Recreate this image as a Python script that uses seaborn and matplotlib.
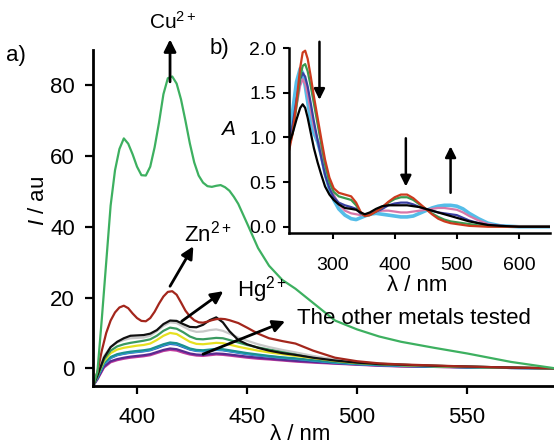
import numpy as np
import pandas as pd
import matplotlib
matplotlib.use("Agg")
import matplotlib.pyplot as plt
import seaborn as sns

# ---- data: a) emission spectra ----
# fine grid for the two strong curves (Cu, Zn)
wl_fine = [380, 382, 384, 386, 388, 390, 392, 394, 396, 398, 400, 402, 404, 406, 408,
           410, 412, 414, 416, 418, 420, 422, 424, 426, 428, 430, 432, 434, 436, 438,
           440, 442, 444, 446, 450, 455, 460, 466, 472, 480, 490, 500, 510, 520, 535,
           550, 570, 590]
cu = [-5, -1, 14, 30, 46, 56, 62, 65, 63.5, 60.5, 57, 54.6, 54.5, 57, 62.5, 69.5, 77.5,
      82, 82.5, 80.5, 76, 70, 63.6, 58.2, 54.5, 52.5, 51.5, 51.3, 51.6, 51.8, 51.2,
      50.2, 48.5, 46.5, 41, 34, 29, 25, 22.5, 18.5, 13.5, 11, 9, 7.5, 5.8, 4.2, 1.8, 0]
zn = [-5, -1, 5, 10, 13.5, 15.8, 17.2, 17.7, 17, 15.5, 14.2, 13.4, 13.3, 14.2, 16,
      18.3, 20.3, 21.6, 21.8, 20.8, 18.6, 16.3, 14.7, 13.6, 13, 12.9, 13.2, 13.6, 13.9,
      14, 13.9, 13.6, 13.2, 12.8, 11.5, 9.8, 8.5, 7.7, 7, 5, 3, 2, 1.4, 1.1, 0.8, 0.5,
      0.2, 0]

wl = [380, 382, 385, 388, 391, 394, 397, 400, 403, 406, 409, 412, 415, 418, 421,
      424, 427, 430, 433, 436, 439, 442, 446, 450, 455, 460, 466, 472, 480, 490,
      500, 510, 520, 535, 550, 570, 590]
hg = [-5, -2, 3, 6, 7.5, 8.5, 9.2, 9.3, 9.4, 9.8, 10.8, 12.5, 13.5, 13.4, 12.5,
      11.7, 11.6, 12.3, 13.6, 14.4, 13, 10.5, 8, 6.8, 5.8, 5, 4.3, 3.8, 3, 2.2, 1.6,
      1.2, 1.0, 0.7, 0.5, 0.2, 0]
grey = [-5, -1.5, 3.5, 6, 7.3, 8, 8.5, 8.6, 8.7, 9.2, 10.5, 12, 13, 12.8, 11.8,
        10.8, 10.3, 10.4, 10.8, 11, 10.6, 9.8, 8.7, 7.8, 6.8, 6, 5.2, 4.5, 3.5, 2.5,
        1.8, 1.3, 1, 0.7, 0.5, 0.2, 0]
sea = [-5, -2, 2.5, 5, 6.2, 6.8, 7.2, 7.5, 7.8, 8.2, 9.2, 10.6, 11.5, 11.2, 10.2, 9,
       8.3, 8.2, 8.4, 8.6, 8.5, 8, 7.3, 6.6, 5.9, 5.3, 4.7, 4.1, 3.3, 2.4, 1.7, 1.3,
       1.0, 0.7, 0.5, 0.2, 0]
yellow = [-5, -2, 2, 4.3, 5.3, 5.8, 6.1, 6.4, 6.6, 7, 8, 9.2, 10, 9.7, 8.6, 7.5, 6.9,
          6.8, 7, 7.2, 7.1, 6.7, 6.1, 5.6, 5, 4.5, 4, 3.5, 2.9, 2.1, 1.5, 1.2, 0.9,
          0.6, 0.4, 0.2, 0]
teal = [-5, -2.5, 1.5, 3.2, 4, 4.4, 4.7, 4.9, 5.1, 5.4, 6.1, 6.8, 7.3, 7.1, 6.4, 5.6,
        5.2, 5.1, 5.3, 5.5, 5.4, 5.1, 4.7, 4.3, 3.9, 3.5, 3.1, 2.8, 2.3, 1.7, 1.3,
        1.0, 0.8, 0.5, 0.3, 0.1, 0]
sky = [-5, -2.6, 1.3, 3.0, 3.8, 4.2, 4.5, 4.7, 4.9, 5.2, 5.9, 6.6, 7.1, 6.9, 6.2,
       5.4, 5.0, 4.9, 5.1, 5.3, 5.2, 4.9, 4.5, 4.1, 3.7, 3.4, 3.0, 2.7, 2.2, 1.6, 1.2,
       0.9, 0.7, 0.5, 0.3, 0.1, 0]
blue = [-5, -2.7, 1.2, 2.9, 3.7, 4.1, 4.4, 4.6, 4.8, 5.1, 5.7, 6.4, 6.9, 6.7, 6, 5.3,
        4.9, 4.8, 5, 5.2, 5.1, 4.8, 4.4, 4, 3.6, 3.3, 2.9, 2.6, 2.1, 1.6, 1.2, 0.9,
        0.7, 0.5, 0.3, 0.1, 0]
purple = [-5, -3, 0.5, 2, 2.6, 3, 3.3, 3.5, 3.7, 4, 4.6, 5.2, 5.6, 5.4, 4.8, 4.2, 3.9,
          3.8, 4, 4.2, 4.1, 3.9, 3.6, 3.3, 3, 2.7, 2.4, 2.1, 1.8, 1.4, 1.1, 0.8, 0.6,
          0.4, 0.3, 0.1, 0]
magenta = [-5, -3.2, 0.2, 1.7, 2.3, 2.7, 3, 3.2, 3.4, 3.7, 4.3, 4.9, 5.2, 5, 4.4, 3.9,
           3.6, 3.5, 3.7, 3.9, 3.8, 3.6, 3.3, 3, 2.7, 2.5, 2.2, 1.9, 1.6, 1.3, 1, 0.7,
           0.5, 0.4, 0.2, 0.1, 0]

# ---- data: b) absorption spectra ----
wl_abs = [230, 236, 242, 248, 252, 256, 260, 265, 270, 276, 282, 288, 295, 302, 310,
          320, 330, 338, 345, 352, 360, 370, 380, 390, 400, 410, 420, 430, 440, 450,
          460, 470, 480, 490, 500, 510, 520, 535, 550, 570, 600, 650]
a_red = [0.85, 1.05, 1.4, 1.78, 1.95, 1.97, 1.88, 1.68, 1.46, 1.22, 0.98, 0.75, 0.55,
         0.43, 0.38, 0.36, 0.34, 0.27, 0.17, 0.12, 0.13, 0.17, 0.22, 0.28, 0.33, 0.36,
         0.36, 0.32, 0.26, 0.2, 0.14, 0.09, 0.06, 0.04, 0.03, 0.02, 0.01, 0.005, 0, 0,
         0, 0]
a_green = [0.9, 1.05, 1.35, 1.68, 1.8, 1.82, 1.74, 1.57, 1.38, 1.15, 0.92, 0.7, 0.5,
           0.39, 0.34, 0.32, 0.3, 0.24, 0.16, 0.12, 0.13, 0.17, 0.22, 0.27, 0.31, 0.33,
           0.33, 0.3, 0.25, 0.2, 0.15, 0.11, 0.08, 0.06, 0.05, 0.04, 0.03, 0.015, 0.01,
           0, 0, 0]
a_blue = [0.95, 1.15, 1.42, 1.65, 1.72, 1.68, 1.57, 1.38, 1.18, 0.97, 0.77, 0.58, 0.43,
          0.33, 0.27, 0.24, 0.22, 0.2, 0.15, 0.13, 0.14, 0.17, 0.2, 0.24, 0.26, 0.27,
          0.27, 0.25, 0.22, 0.2, 0.18, 0.16, 0.15, 0.14, 0.13, 0.1, 0.07, 0.04, 0.02,
          0.01, 0, 0]
a_cyan = [1.0, 1.3, 1.62, 1.77, 1.72, 1.58, 1.4, 1.18, 1.05, 0.95, 0.8, 0.6, 0.42, 0.3,
          0.2, 0.13, 0.09, 0.08, 0.1, 0.12, 0.14, 0.15, 0.14, 0.13, 0.12, 0.11, 0.11,
          0.12, 0.15, 0.18, 0.21, 0.23, 0.24, 0.24, 0.23, 0.2, 0.15, 0.09, 0.04, 0.01,
          0, 0]
a_pink = [0.95, 1.1, 1.35, 1.58, 1.65, 1.6, 1.48, 1.3, 1.12, 0.97, 0.85, 0.7, 0.52,
          0.36, 0.25, 0.18, 0.15, 0.14, 0.13, 0.13, 0.15, 0.17, 0.18, 0.18, 0.17, 0.16,
          0.16, 0.17, 0.18, 0.19, 0.2, 0.21, 0.21, 0.2, 0.19, 0.16, 0.12, 0.07, 0.03,
          0.01, 0, 0]
a_black = [0.93, 1.05, 1.2, 1.33, 1.37, 1.33, 1.22, 1.05, 0.88, 0.72, 0.58, 0.45, 0.36,
           0.3, 0.25, 0.21, 0.2, 0.19, 0.16, 0.14, 0.16, 0.2, 0.23, 0.24, 0.24, 0.24,
           0.24, 0.23, 0.22, 0.2, 0.18, 0.16, 0.14, 0.12, 0.1, 0.08, 0.06, 0.04, 0.02,
           0.01, 0, 0]

em_series = {"magenta": (wl, magenta), "purple": (wl, purple), "blue": (wl, blue),
             "sky": (wl, sky), "teal": (wl, teal), "yellow": (wl, yellow),
             "sea": (wl, sea), "grey": (wl, grey), "Hg": (wl, hg),
             "Zn": (wl_fine, zn), "Cu": (wl_fine, cu)}
em_colors = {"magenta": "#c03a9e", "purple": "#5a2a90", "blue": "#2a4cb0",
             "sky": "#3aa8e0", "teal": "#1a9090", "yellow": "#e6e020",
             "sea": "#3a9a60", "grey": "#c8c8c8", "Hg": "#101010",
             "Zn": "#a3261c", "Cu": "#3db060"}
abs_series = {"cyan": a_cyan, "pink": a_pink, "blue": a_blue, "green": a_green,
              "red": a_red, "black": a_black}
abs_colors = {"cyan": "#55bde8", "pink": "#d877a8", "blue": "#3a3fa0",
              "green": "#3a9a50", "red": "#cc3a1e", "black": "#000000"}

em_df = pd.concat([pd.DataFrame({"wl": x, "I": y, "metal": k})
                   for k, (x, y) in em_series.items()], ignore_index=True)
abs_df = pd.concat([pd.DataFrame({"wl": wl_abs, "A": v, "sample": k})
                    for k, v in abs_series.items()], ignore_index=True)

sns.set_style("ticks")
plt.rcParams["font.family"] = ["Liberation Sans", "DejaVu Sans"]
plt.rcParams["mathtext.fontset"] = "custom"
plt.rcParams["mathtext.rm"] = "Liberation Sans"
plt.rcParams["mathtext.it"] = "Liberation Sans:italic"
for key in ["text.color", "axes.labelcolor", "xtick.color", "ytick.color",
            "axes.edgecolor"]:
    plt.rcParams[key] = "black"

fig = plt.figure(figsize=(5.54, 4.45), dpi=100, facecolor="white")
ax = fig.add_axes([0.1679, 0.1326, 0.8321, 0.7551])
sns.lineplot(data=em_df, x="wl", y="I", hue="metal", palette=em_colors,
             hue_order=list(em_series.keys()), estimator=None, sort=False,
             legend=False, linewidth=1.6, ax=ax)

ax.set_xlim(380, 589.5)
ax.set_ylim(-5, 90)
ax.set_xticks([400, 450, 500, 550])
ax.set_yticks([0, 20, 40, 60, 80])
ax.tick_params(labelsize=16, length=6, width=1.6, pad=7, direction="out")
ax.tick_params(axis="x", pad=9)
for s in ["top", "right"]:
    ax.spines[s].set_visible(False)
for s in ["left", "bottom"]:
    ax.spines[s].set_linewidth(2)
ax.set_xlabel("λ / nm", fontsize=16)
ax.xaxis.set_label_coords(0.45, -0.112)
ax.set_ylabel("$\\mathit{I}$ / au", fontsize=16)
ax.yaxis.set_label_coords(-0.095, 0.55)

arrow = dict(arrowstyle="-|>", lw=2, color="black", mutation_scale=18,
             shrinkA=0, shrinkB=0)
ax.annotate("", xy=(415, 93), xytext=(415, 81), arrowprops=arrow,
            annotation_clip=False)
ax.text(416, 96, "Cu$^{2+}$", fontsize=15, ha="center", va="baseline", clip_on=False)
ax.annotate("", xy=(425.6, 34.5), xytext=(415, 23.2), arrowprops=arrow)
ax.text(432, 38, "Zn$^{2+}$", fontsize=16, ha="center", va="center")
ax.annotate("", xy=(439.2, 21.8), xytext=(420.3, 13.3), arrowprops=arrow)
ax.text(445.5, 22.3, "Hg$^{2+}$", fontsize=16, ha="left", va="center")
ax.annotate("", xy=(467.3, 13.3), xytext=(430, 4), arrowprops=arrow)
ax.text(472.6, 14, "The other metals tested", fontsize=16, ha="left", va="center")

fig.text(0.01, 0.876, "a)", fontsize=16, va="center")
fig.text(0.378, 0.892, "b)", fontsize=16, va="center")

# ---- inset b) ----
axin = fig.add_axes([0.5217, 0.4764, 0.4711, 0.4157])
axin.patch.set_alpha(0)
sns.lineplot(data=abs_df, x="wl", y="A", hue="sample", palette=abs_colors,
             hue_order=list(abs_series.keys()), estimator=None, sort=False,
             legend=False, linewidth=1.6, ax=axin)
axin.lines[0].set_linewidth(2.6)
axin.set_xlim(230, 650)
axin.set_ylim(-0.07, 2.0)
axin.set_xticks([300, 400, 500, 600])
axin.set_yticks([0.0, 0.5, 1.0, 1.5, 2.0])
axin.set_yticklabels(["0.0", "0.5", "1.0", "1.5", "2.0"])
axin.tick_params(labelsize=14, length=4, width=1.5, direction="out")
axin.tick_params(axis="x", pad=13)
axin.tick_params(axis="y", pad=5)
for s in ["top", "right"]:
    axin.spines[s].set_visible(False)
for s in ["left", "bottom"]:
    axin.spines[s].set_linewidth(1.8)
axin.set_xlabel("λ / nm", fontsize=16)
axin.xaxis.set_label_coords(0.49, -0.225)
axin.set_ylabel("A", fontsize=15, style="italic", rotation=0, va="center", ha="center")
axin.yaxis.set_label_coords(-0.235, 0.56)

arrow2 = dict(arrowstyle="-|>", lw=1.8, color="black", mutation_scale=16,
              shrinkA=0, shrinkB=0)
axin.annotate("", xy=(279, 1.42), xytext=(279, 2.07), arrowprops=arrow2,
              annotation_clip=False)
axin.annotate("", xy=(418, 0.45), xytext=(418, 0.99), arrowprops=arrow2)
axin.annotate("", xy=(490, 0.9), xytext=(490, 0.38), arrowprops=arrow2)

fig.savefig("out.png", dpi=100, facecolor="white")
